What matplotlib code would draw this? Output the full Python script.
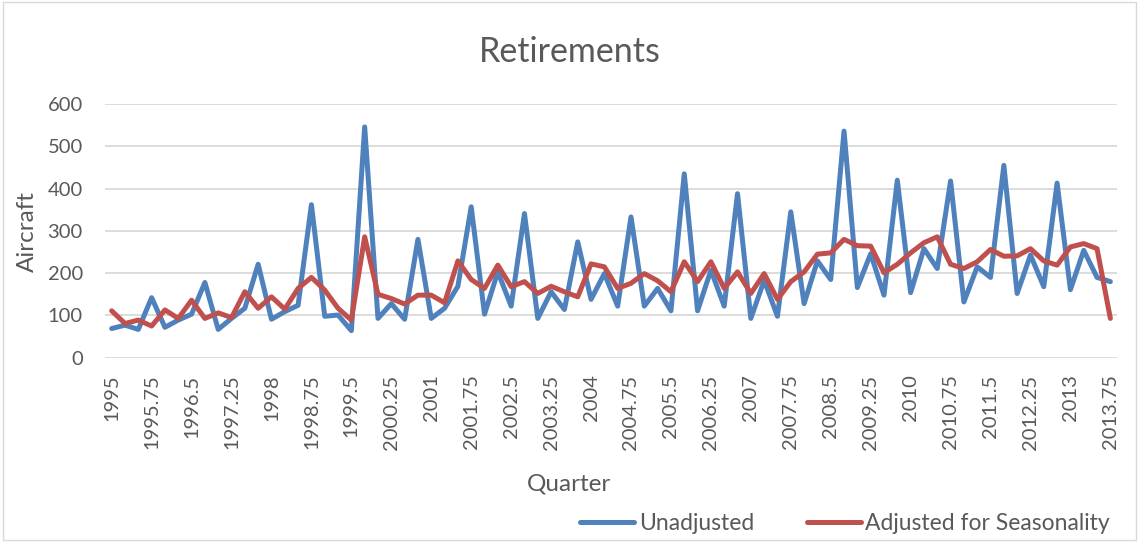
import matplotlib.pyplot as plt
from matplotlib.patches import Rectangle

plt.rcParams['font.family'] = ['Lato', 'DejaVu Sans']

# quarters 1995 .. 2013.75
quarters = [1995 + 0.25 * i for i in range(76)]

unadjusted = [69, 77, 67, 142, 72, 89, 103, 178, 67, 93,
              117, 221, 91, 109, 124, 362, 98, 101, 64, 546,
              93, 128, 91, 280, 93, 117, 169, 357, 103, 203,
              122, 341, 93, 156, 114, 274, 138, 199, 122, 333,
              122, 164, 111, 435, 111, 207, 122, 388, 93, 183,
              98, 345, 128, 229, 185, 536, 166, 246, 148, 420,
              154, 258, 211, 418, 132, 215, 190, 455, 152, 243,
              168, 413, 161, 254, 190, 180]

adjusted = [111, 81, 89, 75, 113, 93, 136, 93, 106, 95,
            156, 117, 144, 115, 164, 190, 160, 117, 89, 286,
            150, 140, 127, 148, 148, 130, 229, 185, 164, 219,
            168, 180, 152, 169, 156, 144, 222, 215, 164, 176,
            199, 182, 156, 227, 180, 227, 164, 203, 152, 199,
            138, 180, 203, 245, 248, 280, 265, 264, 201, 221,
            248, 272, 286, 221, 211, 227, 256, 240, 241, 258,
            229, 219, 262, 270, 258, 93]

tick_idx = list(range(0, 76, 3))
tick_labels = ['%g' % quarters[i] for i in tick_idx]

text_color = '#595959'
blue = '#4f81bd'
red = '#c0504d'

fig = plt.figure(figsize=(11.39, 5.42), dpi=100)
ax = fig.add_axes([0.0922, 0.340, 0.8885, 0.468])

x = list(range(len(quarters)))
ax.plot(x, unadjusted, color=blue, lw=3.6, solid_joinstyle='round',
        solid_capstyle='round', label='Unadjusted')
ax.plot(x, adjusted, color=red, lw=3.6, solid_joinstyle='round',
        solid_capstyle='round', label='Adjusted for Seasonality')

ax.set_xlim(-0.5, 75.5)
ax.set_ylim(0, 600)
ax.set_yticks(range(0, 601, 100))
ax.yaxis.grid(True, color='#d9d9d9', lw=1.3)
ax.set_axisbelow(True)
ax.set_xticks(tick_idx)
ax.set_xticklabels(tick_labels, rotation=90)
ax.tick_params(axis='both', length=0, colors=text_color, labelsize=14.5)
ax.tick_params(axis='x', pad=12)
ax.tick_params(axis='y', pad=16)
for s in ax.spines.values():
    s.set_visible(False)

ax.set_xlabel('Quarter', fontsize=17.5, color=text_color, va='center')
ax.xaxis.set_label_coords(0.5, 1 - 484 / 542, transform=fig.transFigure)
ax.set_ylabel('Aircraft', fontsize=17.5, color=text_color, va='center', ha='center')
ax.yaxis.set_label_coords(27 / 1139, 1 - 232 / 542, transform=fig.transFigure)

fig.text(0.5, 1 - 61.7 / 542, 'Retirements', ha='center', va='baseline',
         fontsize=24.5, color=text_color)

fig.legend(loc='center', bbox_to_anchor=(0.742, 0.035), ncol=2, frameon=False,
           fontsize=16.5, handlelength=2.35, handletextpad=0.2, columnspacing=2.3,
           labelcolor=text_color)

fig.patches.append(Rectangle((0.003, 0.004), 0.994, 0.993, transform=fig.transFigure,
                             fill=False, edgecolor='#d9d9d9', lw=1))

plt.savefig('out.png', dpi=100)
